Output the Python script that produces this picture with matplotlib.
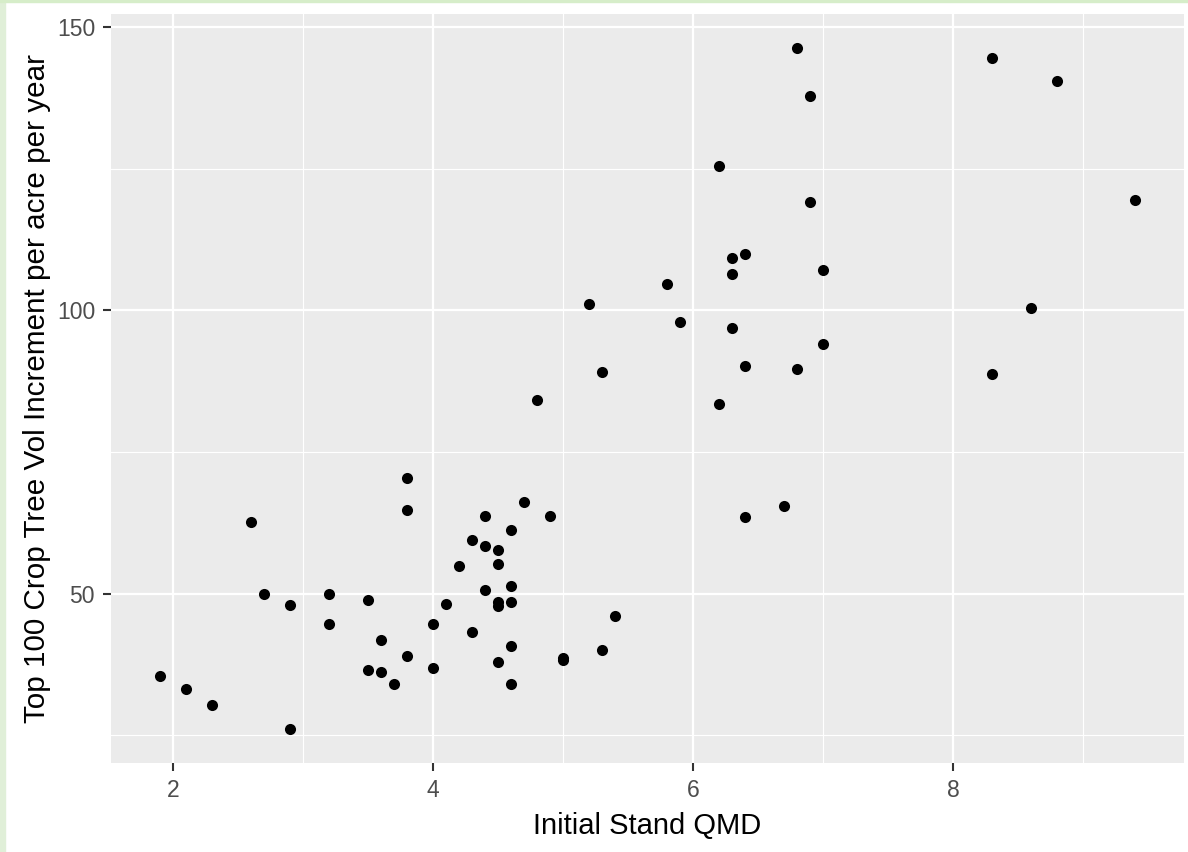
import numpy as np
import matplotlib.pyplot as plt
from matplotlib.patches import Rectangle

# Initial stand QMD vs top 100 crop tree volume increment
qmd = [1.9, 2.1, 2.3, 2.6, 2.7, 2.9, 2.9, 3.2, 3.2, 3.5, 3.5, 3.6, 3.6, 3.7,
       3.8, 3.8, 3.8, 4.0, 4.0, 4.1, 4.2, 4.3, 4.3, 4.4, 4.4, 4.4, 4.5, 4.5,
       4.5, 4.5, 4.5, 4.6, 4.6, 4.6, 4.6, 4.6, 4.7, 4.8, 4.9, 5.0, 5.0, 5.2,
       5.3, 5.3, 5.4, 5.8, 5.9, 6.2, 6.2, 6.3, 6.3, 6.3, 6.4, 6.4, 6.4, 6.7,
       6.8, 6.8, 6.9, 6.9, 7.0, 7.0, 8.3, 8.3, 8.6, 8.8, 9.4]
vol_inc = [35.5, 33.1, 30.3, 62.6, 50.0, 47.9, 26.1, 50.0, 44.7, 48.9, 36.5, 41.8, 36.2, 34.0,
           70.4, 64.8, 39.0, 44.6, 36.9, 48.2, 54.9, 59.5, 43.2, 63.7, 58.4, 50.6, 57.7, 55.2,
           48.5, 47.8, 37.9, 61.2, 51.4, 48.5, 40.8, 34.0, 66.2, 84.2, 63.7, 38.7, 38.3, 101.1,
           89.1, 40.1, 46.1, 104.7, 97.9, 125.5, 83.4, 109.3, 106.4, 96.9, 110.0, 90.1, 63.6, 65.4,
           146.3, 89.7, 137.9, 119.1, 107.1, 94.0, 144.6, 88.7, 100.4, 140.4, 119.5]

x_major = [2, 4, 6, 8]
x_minor = [3, 5, 7, 9]
y_major = [50, 100, 150]
y_minor = [25, 75, 125]

plt.rcParams['font.family'] = ['Liberation Sans', 'DejaVu Sans']

fig = plt.figure(figsize=(11.88, 8.52), dpi=100)
W, H = 1188, 852
ax = fig.add_axes([111 / W, 89 / H, (1184 - 111) / W, (763 - 14) / H])

ax.scatter(qmd, vol_inc, s=64, color='black', linewidths=0, zorder=3)

# ggplot style 5% expansion
xr = max(qmd) - min(qmd)
yr = max(vol_inc) - min(vol_inc)
ax.set_xlim(min(qmd) - 0.05 * xr, max(qmd) + 0.05 * xr)
ax.set_ylim(min(vol_inc) - 0.05 * yr, max(vol_inc) + 0.05 * yr)

ax.set_facecolor('#EBEBEB')
for s in ax.spines.values():
    s.set_visible(False)
ax.set_xticks(x_major)
ax.set_xticks(x_minor, minor=True)
ax.set_yticks(y_major)
ax.set_yticks(y_minor, minor=True)
ax.set_axisbelow(True)
ax.grid(which='major', color='white', linewidth=1.6)
ax.grid(which='minor', color='white', linewidth=0.8)
ax.tick_params(which='major', length=5.5, width=1.5, color='#333333',
               labelcolor='#4D4D4D', labelsize=16.5)
ax.tick_params(axis='x', which='major', pad=6)
ax.tick_params(axis='y', which='major', pad=6)
ax.tick_params(which='minor', length=0)

fig.text((111 + 1184) / 2 / W, 18 / H, 'Initial Stand QMD', fontsize=21,
         ha='center', va='baseline')
fig.text(45 / W, 1 - (14 + 763) / 2 / H, 'Top 100 Crop Tree Vol Increment per acre per year',
         fontsize=21.3, rotation=90, rotation_mode='anchor', ha='center', va='baseline')

# light green frame of the screenshot
fig.patches.append(Rectangle((0, 0), 5 / W, 1, transform=fig.transFigure,
                             color='#E0EFD8', zorder=0))
fig.patches.append(Rectangle((0, 1 - 1.5 / H), 1, 1.5 / H, transform=fig.transFigure,
                             color='#D6EDC9', zorder=0))

fig.savefig('out.png', dpi=100)
